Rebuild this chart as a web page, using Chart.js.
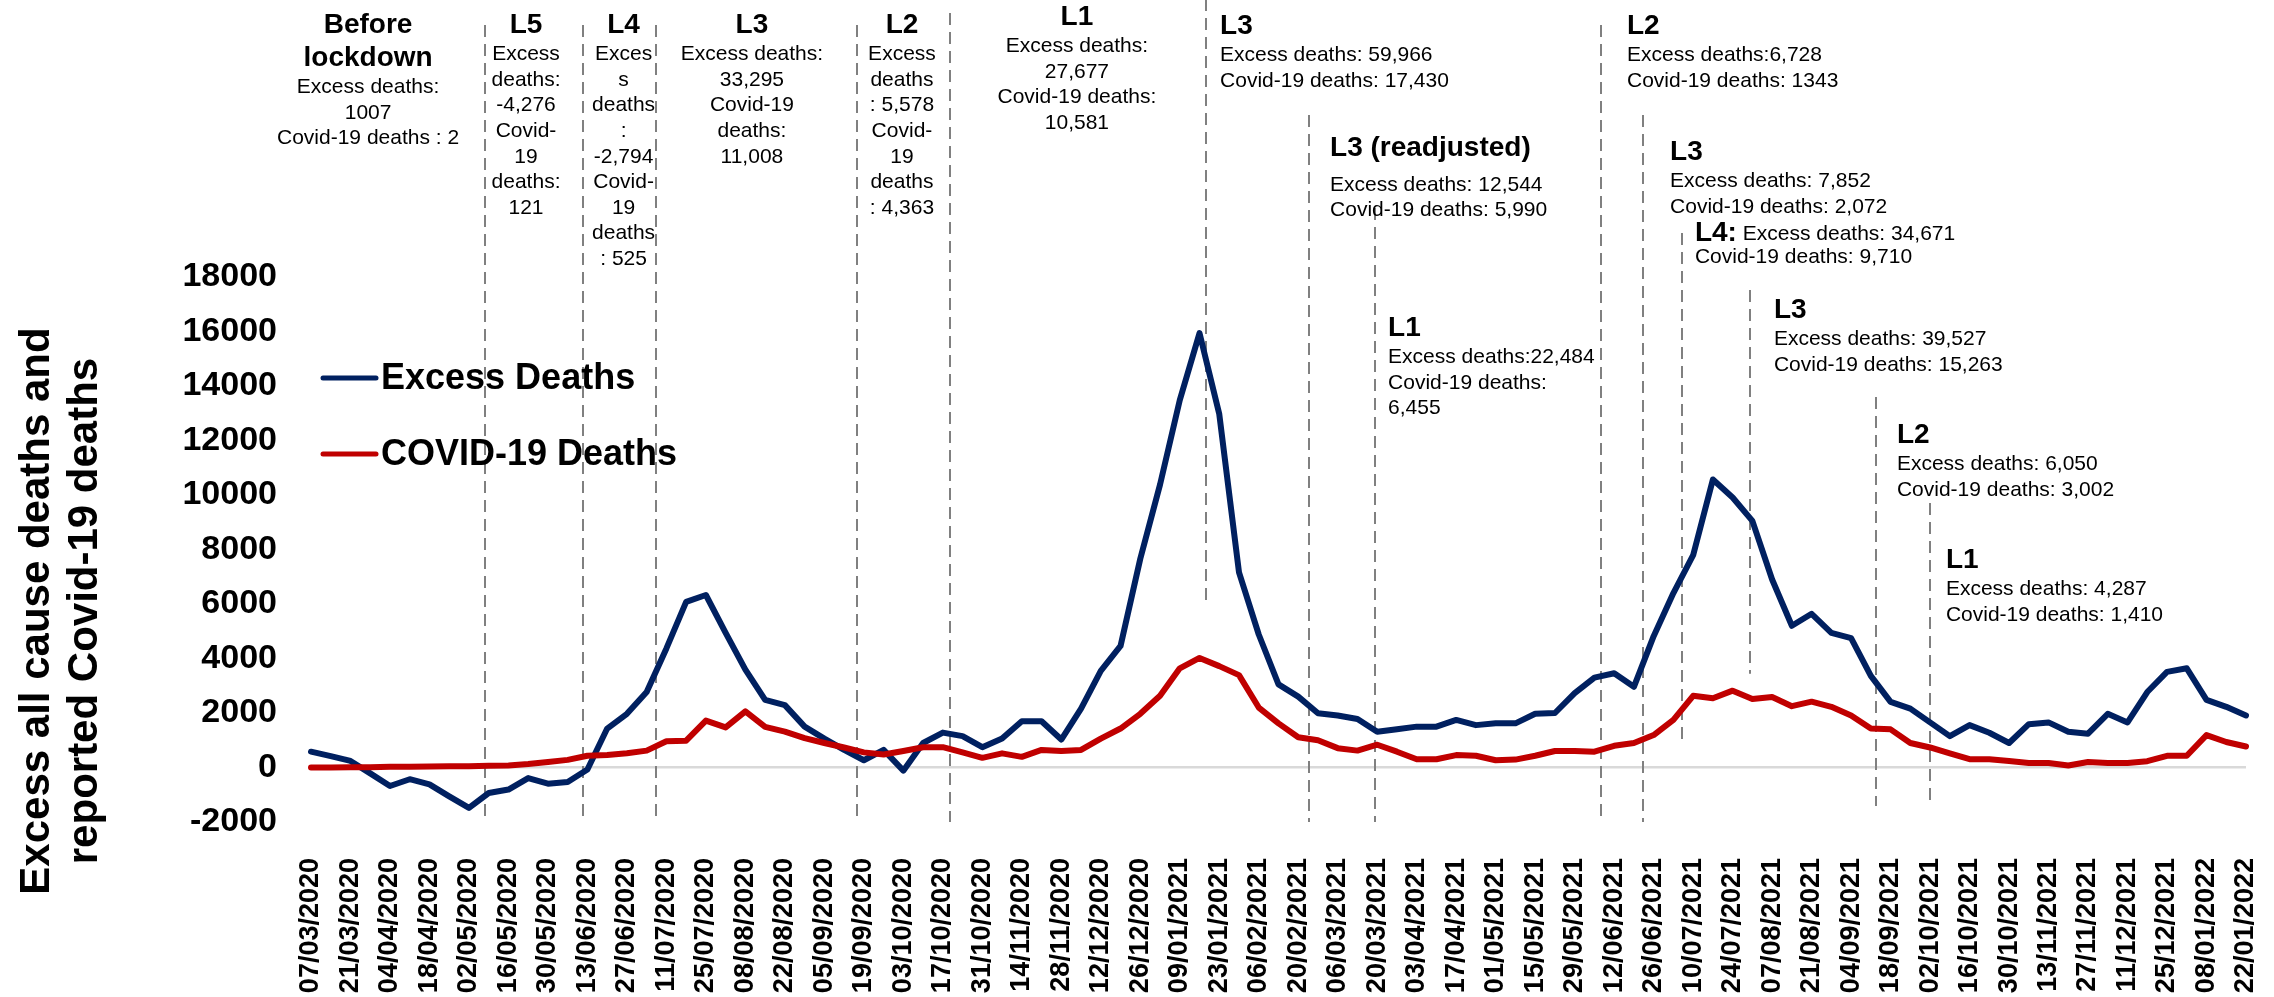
<!DOCTYPE html>
<html>
<head>
<meta charset="utf-8">
<title>Excess deaths and COVID-19 deaths</title>
<script src="https://cdn.jsdelivr.net/npm/chart.js@4.4.0/dist/chart.umd.min.js"></script>
<style>
    html, body { margin: 0; padding: 0; background: #ffffff; }
    #chart { display: block; }
</style>
</head>
<body>
<canvas id="chart" width="2274" height="997"></canvas>
<script>
const weeks =
[
    '07/03/2020', '14/03/2020', '21/03/2020', '28/03/2020',
    '04/04/2020', '11/04/2020', '18/04/2020', '25/04/2020',
    '02/05/2020', '09/05/2020', '16/05/2020', '23/05/2020', '30/05/2020',
    '06/06/2020', '13/06/2020', '20/06/2020', '27/06/2020',
    '04/07/2020', '11/07/2020', '18/07/2020', '25/07/2020',
    '01/08/2020', '08/08/2020', '15/08/2020', '22/08/2020', '29/08/2020',
    '05/09/2020', '12/09/2020', '19/09/2020', '26/09/2020',
    '03/10/2020', '10/10/2020', '17/10/2020', '24/10/2020', '31/10/2020',
    '07/11/2020', '14/11/2020', '21/11/2020', '28/11/2020',
    '05/12/2020', '12/12/2020', '19/12/2020', '26/12/2020',
    '02/01/2021', '09/01/2021', '16/01/2021', '23/01/2021', '30/01/2021',
    '06/02/2021', '13/02/2021', '20/02/2021', '27/02/2021',
    '06/03/2021', '13/03/2021', '20/03/2021', '27/03/2021',
    '03/04/2021', '10/04/2021', '17/04/2021', '24/04/2021',
    '01/05/2021', '08/05/2021', '15/05/2021', '22/05/2021', '29/05/2021',
    '05/06/2021', '12/06/2021', '19/06/2021', '26/06/2021',
    '03/07/2021', '10/07/2021', '17/07/2021', '24/07/2021', '31/07/2021',
    '07/08/2021', '14/08/2021', '21/08/2021', '28/08/2021',
    '04/09/2021', '11/09/2021', '18/09/2021', '25/09/2021',
    '02/10/2021', '09/10/2021', '16/10/2021', '23/10/2021', '30/10/2021',
    '06/11/2021', '13/11/2021', '20/11/2021', '27/11/2021',
    '04/12/2021', '11/12/2021', '18/12/2021', '25/12/2021',
    '01/01/2022', '08/01/2022', '15/01/2022', '22/01/2022'
];

const excessDeaths =
[
    580, 420, 240, -215, -680, -430, -620, -1060, -1480, -935,
    -810, -390, -595, -530, -75, 1430, 1970, 2770, 4370, 6080,
    6330, 4940, 3590, 2480, 2290, 1500, 1060, 645, 265, 645,
    -115, 900, 1280, 1150, 745, 1060, 1695, 1695, 1025, 2160,
    3550, 4460, 7660, 10380, 13480, 15940, 12970, 7160, 4880, 3050,
    2600, 1990, 1910, 1780, 1310, 1400, 1500, 1500, 1745, 1555,
    1620, 1620, 1970, 2000, 2730, 3300, 3460, 2960, 4820, 6400,
    7790, 10570, 9910, 9050, 6900, 5200, 5640, 4940, 4750, 3360,
    2410, 2160, 1655, 1150, 1555, 1275, 900, 1590, 1655, 1315,
    1240, 1970, 1655, 2770, 3510, 3640, 2480, 2225, 1910
];

const covidDeaths =
[
    0, 0, 5, 10, 25, 25, 40, 50, 50, 60,
    75, 125, 200, 280, 430, 455, 520, 620, 960, 985,
    1720, 1470, 2060, 1490, 1315, 1080, 900, 735, 555, 480,
    605, 745, 745, 555, 355, 520, 390, 645, 605, 645,
    1060, 1430, 1970, 2630, 3640, 4020, 3720, 3390, 2200, 1620,
    1110, 1000, 710, 620, 835, 580, 305, 305, 455, 430,
    265, 290, 430, 605, 605, 580, 795, 900, 1190, 1745,
    2630, 2540, 2820, 2510, 2590, 2250, 2415, 2225, 1910, 1430,
    1400, 900, 735, 520, 305, 305, 240, 165, 165, 75,
    200, 165, 165, 230, 430, 430, 1190, 935, 770
];

const yRange = [-2000, 18000];
const yStep = 2000;
const yTitle = ['Excess all cause deaths and', 'reported Covid-19 deaths'];

// lockdown boundaries: week index (fractional) and vertical extent in deaths
const lockdownLines =
[
    { at: 8.79, from: -2000, to: 27250 },
    { at: 13.78, from: -2000, to: 27250 },
    { at: 17.45, from: -2000, to: 27250 },
    { at: 27.63, from: -2000, to: 27250 },
    { at: 32.37, from: -2000, to: 27690 },
    { at: 45.33, from: 6150, to: 28200 },
    { at: 50.54, from: -2000, to: 23945 },
    { at: 53.9, from: -2000, to: 20530 },
    { at: 65.33, from: -2000, to: 27250 },
    { at: 67.45, from: -2000, to: 23945 },
    { at: 69.44, from: 970, to: 19615 },
    { at: 72.86, from: 3440, to: 17520 },
    { at: 79.26, from: -1413, to: 13600 },
    { at: 81.99, from: -1413, to: 9710 }
];

const lockdownNotes =
[
    { at: 2.89, top: 25, align: 'center', title: ['Before', 'lockdown'], lines: ['Excess deaths:', '1007', 'Covid-19 deaths : 2'] },
    { at: 10.89, top: 25, align: 'center', title: ['L5'], lines: ['Excess', 'deaths:', '-4,276', 'Covid-', '19', 'deaths:', '121'] },
    { at: 15.83, top: 25, align: 'center', title: ['L4'], lines: ['Exces', 's', 'deaths', ':', '-2,794', 'Covid-', '19', 'deaths', ': 525'] },
    { at: 22.33, top: 25, align: 'center', title: ['L3'], lines: ['Excess deaths:', '33,295', 'Covid-19', 'deaths:', '11,008'] },
    { at: 29.93, top: 25, align: 'center', title: ['L2'], lines: ['Excess', 'deaths', ': 5,578', 'Covid-', '19', 'deaths', ': 4,363'] },
    { at: 38.79, top: 17, align: 'center', title: ['L1'], lines: ['Excess deaths:', '27,677', 'Covid-19 deaths:', '10,581'] },
    { at: 46.04, top: 26, align: 'left', title: ['L3'], lines: ['Excess deaths: 59,966', 'Covid-19 deaths: 17,430'] },
    { at: 51.61, top: 148, align: 'left', gap: 37, title: ['L3 (readjusted)'], lines: ['Excess deaths: 12,544', 'Covid-19 deaths: 5,990'] },
    { at: 54.55, top: 328, align: 'left', title: ['L1'], lines: ['Excess deaths:22,484', 'Covid-19 deaths:', '6,455'] },
    { at: 66.65, top: 26, align: 'left', title: ['L2'], lines: ['Excess deaths:6,728', 'Covid-19 deaths: 1343'] },
    { at: 68.83, top: 152, align: 'left', title: ['L3'], lines: ['Excess deaths: 7,852', 'Covid-19 deaths: 2,072'] },
    { at: 70.09, top: 233, align: 'left', gap: 24, title: ['L4:'], inline: ' Excess deaths: 34,671', lines: ['Covid-19 deaths: 9,710'] },
    { at: 74.09, top: 310, align: 'left', title: ['L3'], lines: ['Excess deaths: 39,527', 'Covid-19 deaths: 15,263'] },
    { at: 80.32, top: 435, align: 'left', title: ['L2'], lines: ['Excess deaths: 6,050', 'Covid-19 deaths: 3,002'] },
    { at: 82.8, top: 560, align: 'left', title: ['L1'], lines: ['Excess deaths: 4,287', 'Covid-19 deaths: 1,410'] }
];

const FAMILY = '"Liberation Sans", Arial, Helvetica, sans-serif';

const lockdownPlugin =
{
    id: 'lockdownPlugin',

    beforeDatasetsDraw(chart)
    {
        const ctx = chart.ctx;
        const xs = chart.scales.x;
        const ys = chart.scales.y;

        ctx.save();
        ctx.strokeStyle = '#808080';
        ctx.lineWidth = 2;
        ctx.setLineDash([12, 7]);
        for (const line of lockdownLines)
        {
            const px = Math.round(xs.getPixelForValue(line.at));
            ctx.beginPath();
            ctx.moveTo(px, ys.getPixelForValue(line.to));
            ctx.lineTo(px, ys.getPixelForValue(line.from));
            ctx.stroke();
        }
        ctx.restore();
    },

    afterDraw(chart)
    {
        const ctx = chart.ctx;
        const xs = chart.scales.x;
        const bold = 'bold 28px ' + FAMILY;
        const regular = '21px ' + FAMILY;

        ctx.save();
        ctx.fillStyle = '#000000';
        ctx.textBaseline = 'middle';

        for (const note of lockdownNotes)
        {
            const px = xs.getPixelForValue(note.at);
            let py = note.top;
            ctx.textAlign = note.align;

            ctx.font = bold;
            note.title.forEach((t, i) => ctx.fillText(t, px, py + i * 33));
            py += (note.title.length - 1) * 33;

            if (note.inline)
            {
                const w = ctx.measureText(note.title[0]).width;
                ctx.font = regular;
                ctx.fillText(note.inline, px + w, py + 1);
            }

            py += note.gap || 29.5;
            ctx.font = regular;
            note.lines.forEach((t, i) => ctx.fillText(t, px, py + i * 25.6));
        }

        // legend, drawn inside the plot area
        ctx.textAlign = 'left';
        ctx.font = 'bold 36px ' + FAMILY;
        chart.data.datasets.forEach((ds, i) =>
        {
            const ly = 378 + i * 76;
            ctx.strokeStyle = ds.borderColor;
            ctx.lineWidth = 5;
            ctx.lineCap = 'round';
            ctx.beginPath();
            ctx.moveTo(323, ly);
            ctx.lineTo(376, ly);
            ctx.stroke();
            ctx.fillText(ds.label, 381, ly + 1);
        });

        // y axis title, two rotated lines
        ctx.font = 'bold 42px ' + FAMILY;
        ctx.textAlign = 'center';
        ctx.textBaseline = 'alphabetic';
        yTitle.forEach((t, i) =>
        {
            ctx.save();
            ctx.translate(49 + i * 48, 611);
            ctx.rotate(-Math.PI / 2);
            ctx.fillText(t, 0, 0);
            ctx.restore();
        });

        ctx.restore();
    }
};

const data =
{
    labels: weeks,
    datasets:
    [
        {
            label: 'Excess Deaths',
            data: excessDeaths,
            borderColor: '#002060',
            borderWidth: 6,
            order: 2
        },
        {
            label: 'COVID-19 Deaths',
            data: covidDeaths,
            borderColor: '#C00000',
            borderWidth: 6,
            order: 1
        }
    ]
};

const config =
{
    type: 'line',
    data: data,
    options:
    {
        responsive: false,
        animation: false,
        layout:
        {
            padding: { top: 277, right: 28, bottom: 0, left: 0 }
        },
        elements:
        {
            point: { radius: 0 },
            line: { tension: 0, borderJoinStyle: 'round', borderCapStyle: 'round', fill: false }
        },
        plugins:
        {
            legend: { display: false },
            tooltip: { enabled: false }
        },
        scales:
        {
            x:
            {
                grid: { display: false, drawTicks: false },
                border: { display: false },
                ticks:
                {
                    autoSkip: false,
                    minRotation: 90,
                    maxRotation: 90,
                    padding: 36,
                    color: '#000000',
                    font: { family: FAMILY, size: 27, weight: 'bold' },
                    callback: (value, index) => index % 2 === 0 ? weeks[index] : ''
                },
                afterFit: (scale) =>
                {
                    scale.height = 175;
                    scale.paddingLeft = 0;
                    scale.paddingRight = 0;
                }
            },
            y:
            {
                min: yRange[0],
                max: yRange[1],
                border: { display: false },
                grid:
                {
                    drawTicks: false,
                    lineWidth: 2.5,
                    color: (c) => c.tick && c.tick.value === 0 ? '#d9d9d9' : 'rgba(0,0,0,0)'
                },
                ticks:
                {
                    stepSize: yStep,
                    padding: 34,
                    color: '#000000',
                    font: { family: FAMILY, size: 34, weight: 'bold' },
                    callback: (value) => String(value)
                },
                afterFit: (scale) => { scale.width = 311; }
            }
        }
    },
    plugins: [lockdownPlugin]
};

const chart = new Chart(document.getElementById('chart').getContext('2d'), config);
</script>
</body>
</html>
